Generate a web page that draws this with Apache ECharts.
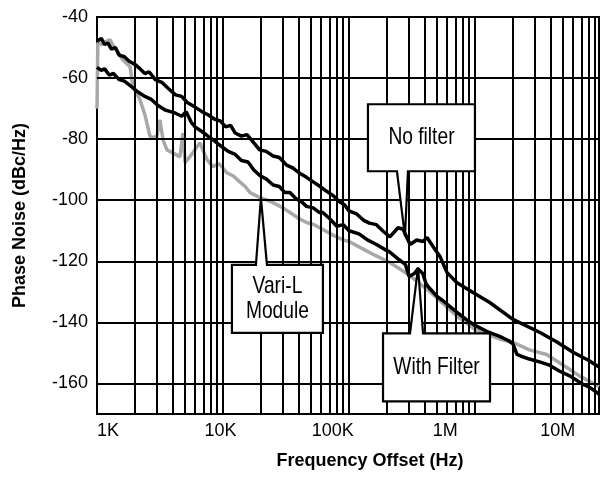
<!DOCTYPE html>
<html>
<head>
<meta charset="utf-8">
<script src="https://cdn.jsdelivr.net/npm/echarts@6/dist/echarts.min.js"></script>
<style>
html,body{margin:0;padding:0;background:#fff;}
#c{width:600px;height:477px;}
</style>
</head>
<body>
<div id="c"></div>
<script>
// ---------- data ----------
const tickValues = [1e3, 1e4, 1e5, 1e6, 1e7];
const tickLabels = ['1K', '10K', '100K', '1M', '10M'];
const yTickValues = [-40, -60, -80, -100, -120, -140, -160];

const freqNoFilter = [1000,1080,1150,1220,1300,1400,1500,1650,1800,2000,2200,2400,2600,2900,3300,3700,4200,4700,5200,6000,6800,7600,8600,9500,10500,11500,12500,14000,15500,17000,19500,22000,25000,28000,32000,36000,40000,46000,52000,59000,66000,75000,84000,92000,100000,115000,130000,145000,165000,185000,211000,245000,269000,305000,345000,386000,416000,470000,527000,600000,720000,964000,1310000,2000000,3280000,4500000,6000000,8000000,9640000];
const valNoFilter  = [-48,-47,-49,-48.5,-50.5,-50,-52.5,-53,-54.5,-55.5,-57,-58.5,-58,-60.5,-61.5,-63.5,-65.5,-66,-68,-69.5,-71,-72,-73.5,-74,-76,-75.5,-78,-79,-78.5,-80.5,-83.5,-84,-85.5,-86,-88.5,-89.5,-91,-92.5,-94,-95.5,-97,-98.5,-100.5,-101.5,-103.5,-104.5,-106.5,-107.5,-108,-110,-112,-109,-109.5,-114.5,-113,-113.5,-112.2,-115.5,-118.4,-123.7,-127,-130.2,-133.5,-139,-143.3,-146.5,-149.8,-152.5,-154.6];

const freqWithFilter = [1000,1080,1150,1250,1350,1500,1650,1900,2100,2400,2700,3050,3500,4200,4700,5100,5600,6000,6800,7600,8500,9800,11000,12500,14000,15800,17500,19700,22000,25000,28000,31000,34000,38000,42000,46000,52000,58000,62000,70000,80000,90000,100000,120000,140000,165000,190000,211000,250000,280000,300000,330000,353000,385000,410000,440000,500000,560000,640000,720000,850000,1000000,1250000,1570000,1850000,2000000,2150000,2300000,2700000,3300000,3900000,4700000,5700000,7000000,8300000,9640000];
const valWithFilter  = [-56.5,-57.5,-57,-59,-58.5,-60.5,-61,-63,-64.5,-66,-67,-69,-70.5,-71.5,-72.5,-71,-74.5,-76,-77.5,-79,-80.5,-82.5,-84,-85,-87,-87.5,-90,-92,-93,-95,-95.5,-97.5,-97.5,-99.5,-100.5,-102,-102.5,-104,-104,-106,-108.5,-108,-110,-111,-113,-114.5,-116,-117,-119.5,-121,-125,-124,-122.5,-124,-127.5,-129,-131.5,-133,-135,-136.7,-139,-141,-143,-144.6,-146,-147,-150.5,-151,-152,-153,-154,-156,-157.6,-160,-161.5,-163.5];

const freqVariL = [1000,1015,1100,1200,1270,1350,1440,1600,1830,1930,2190,2400,2630,2800,2990,3160,3340,3590,4000,4550,4810,5000,5400,5770,6560,7000,7470,8300,9300,10700,12000,13600,15000,16400,19700,22000,25000,29900,34000,40000,46000,53000,62000,75000,90000,100000,130000,160000,211000,300000,440000,720000,1000000,1570000,2000000,2700000,3700000,5700000,6800000,9640000];
const valVariL  = [-70,-48.5,-49,-47.8,-47.5,-49.5,-51,-54,-56.3,-62.9,-67,-72,-79,-79.5,-79,-73.7,-80.2,-83.5,-84.5,-85.8,-78,-87.7,-86,-84.4,-81.2,-84,-86.7,-89,-88,-91,-92,-94,-95.5,-97.5,-99.2,-99.8,-100.8,-102.5,-104,-106,-107.3,-108,-109.6,-111.5,-113,-113.5,-116,-118,-120.4,-124.5,-130,-138,-142.3,-145.5,-146.5,-149,-150.5,-155.5,-157.6,-161];

// callout tips (data coordinates on the curves) and texts
const calloutNoFilter   = {text: 'No filter',       tip: [278000, -111.8]};
const calloutVariL      = {text: 'Vari-L\nModule',  tip: [20000, -99.2]};
const calloutWithFilter = {text: 'With Filter',     tip: [353000, -122]};

const gridFreqs = [];
[1e3, 1e4, 1e5, 1e6].forEach(d => { for (let m = 1; m <= 9; m++) { const v = m * d; if (v > 1000) gridFreqs.push(v); } });
const gridVals = [-60, -80, -100, -120, -140, -160];

// ---------- chart ----------
const SANS = '"Liberation Sans", Arial, Helvetica, sans-serif';
const zip = (a, b) => a.map((x, i) => [x, b[i]]);

const chart = echarts.init(document.getElementById('c'), null, {renderer: 'canvas'});

const gridLines = [];
gridFreqs.forEach(v => gridLines.push({xAxis: v}));
gridVals.forEach(v => gridLines.push({yAxis: v}));

chart.setOption({
  animation: false,
  backgroundColor: '#fff',
  grid: {left: 97, right: 1, top: 17, bottom: 63, show: true, borderColor: '#000', borderWidth: 2, backgroundColor: 'transparent'},
  xAxis: [
    {
      type: 'log', logBase: 10, min: 1000, max: 9.64e6,
      axisLine: {show: false}, axisTick: {show: false}, axisLabel: {show: false},
      splitLine: {show: false}, minorSplitLine: {show: false}
    },
    {
      type: 'log', logBase: 10, min: 798, max: 2.33e7, position: 'bottom',
      axisLine: {show: false}, axisTick: {show: false}, splitLine: {show: false},
      axisLabel: {
        show: true, margin: 8, color: '#000', fontFamily: SANS, fontSize: 18,
        showMinLabel: false, showMaxLabel: false,
        formatter: v => {
          const e = Math.log10(v), r = Math.round(e);
          if (Math.abs(e - r) > 1e-6) return '';
          const i = tickValues.indexOf(Math.pow(10, r));
          return i >= 0 ? tickLabels[i] : '';
        }
      },
      name: 'Frequency Offset (Hz)', nameLocation: 'middle', nameGap: 38,
      nameTextStyle: {color: '#000', fontFamily: SANS, fontWeight: 'bold', fontSize: 18, padding: [0, 0, 0, 44]}
    }
  ],
  yAxis: {
    type: 'value', min: -170, max: -40, interval: 10,
    axisLine: {show: false}, axisTick: {show: false}, splitLine: {show: false},
    axisLabel: {
      margin: 9, color: '#000', fontFamily: SANS, fontSize: 18,
      formatter: v => (yTickValues.indexOf(v) >= 0 ? String(v) : '')
    },
    name: 'Phase Noise (dBc/Hz)', nameLocation: 'middle', nameGap: 68, nameRotate: 90,
    nameTextStyle: {color: '#000', fontFamily: SANS, fontWeight: 'bold', fontSize: 18, padding: [0, 0, 0, 0]}
  },
  series: [
    {
      type: 'line', data: [], xAxisIndex: 0, silent: true, z: 1,
      markLine: {
        silent: true, symbol: 'none', label: {show: false}, animation: false,
        lineStyle: {color: '#000', width: 2, type: 'solid'},
        data: gridLines
      }
    },
    {
      name: 'Vari-L Module', type: 'line', xAxisIndex: 0, z: 3,
      data: zip(freqVariL, valVariL), showSymbol: false, symbol: 'none',
      lineStyle: {color: '#a8a8a8', width: 3.5}
    },
    {
      name: 'With Filter', type: 'line', xAxisIndex: 0, z: 4,
      data: zip(freqWithFilter, valWithFilter), showSymbol: false, symbol: 'none',
      lineStyle: {color: '#000', width: 3.5}
    },
    {
      name: 'No filter', type: 'line', xAxisIndex: 0, z: 4,
      data: zip(freqNoFilter, valNoFilter), showSymbol: false, symbol: 'none',
      lineStyle: {color: '#000', width: 3.5}
    }
  ]
});

function callout(c, box, base, down) {
  // box: [left, right, top, bottom] offsets from tip in px; base: [pL, pR] offsets
  const t = chart.convertToPixel({xAxisIndex: 0, yAxisIndex: 0}, c.tip);
  const L = t[0] + box[0], R = t[0] + box[1], T = t[1] + box[2], B = t[1] + box[3];
  const pL = t[0] + base[0], pR = t[0] + base[1];
  let pts;
  if (down) pts = [[L, T], [R, T], [R, B], [pR, B], t, [pL, B], [L, B]];
  else pts = [[L, T], [pL, T], t, [pR, T], [R, T], [R, B], [L, B]];
  return [
    {type: 'polygon', z: 10, shape: {points: pts}, style: {fill: '#fff', stroke: '#000', lineWidth: 2.2, lineJoin: 'miter'}},
    {type: 'text', z: 11, x: (L + R) / 2, y: (T + B) / 2, scaleX: 0.8,
     style: {x: 0, y: 0, text: c.text, fill: '#000', font: '24px ' + SANS, align: 'center', verticalAlign: 'middle', lineHeight: 25}}
  ];
}

chart.setOption({
  graphic: [].concat(
    callout(calloutNoFilter, [-37, 70, -132, -65], [-8, 3], true),
    callout(calloutVariL, [-29, 62, 67, 135], [-5, 6], false),
    callout(calloutWithFilter, [-35, 72, 66, 134], [-8, 5], false)
  )
});
</script>
</body>
</html>
